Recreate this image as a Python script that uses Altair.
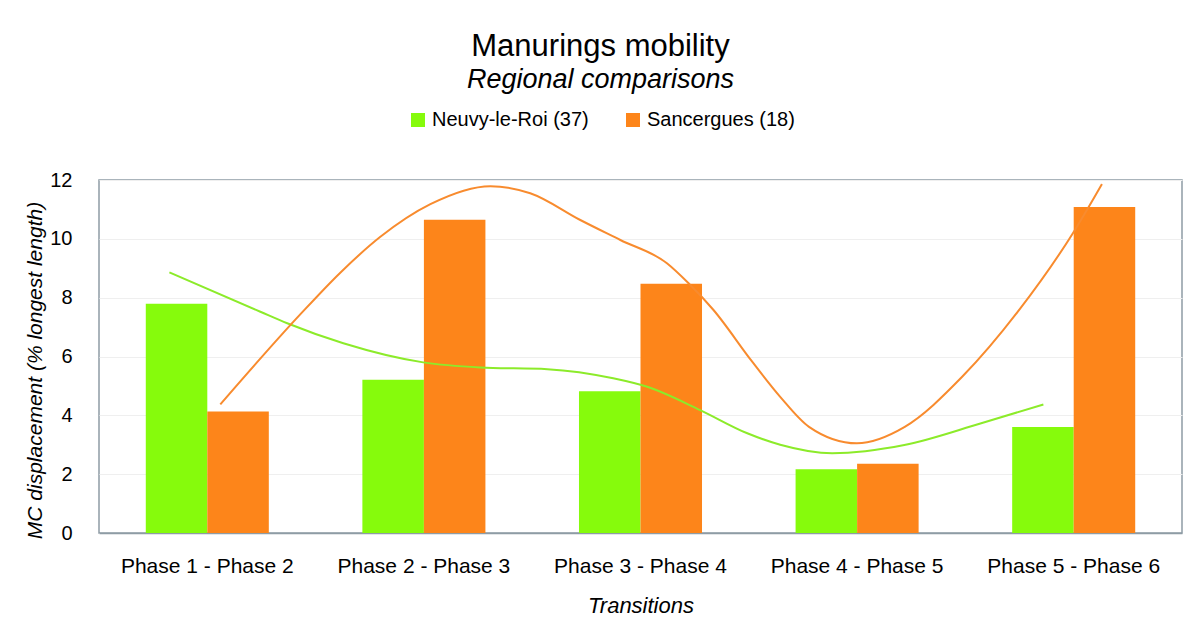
import altair as alt
import pandas as pd

# ---- data ----
categories = ["Phase 1 - Phase 2", "Phase 2 - Phase 3", "Phase 3 - Phase 4",
              "Phase 4 - Phase 5", "Phase 5 - Phase 6"]
series_names = ["Neuvy-le-Roi (37)", "Sancergues (18)"]
neuvy = [7.79, 5.21, 4.82, 2.17, 3.60]
sancergues = [4.13, 10.65, 8.47, 2.35, 11.08]

# smoothed trend curves (position in category units, 1 = first transition)
green_curve_pos = [0.825, 1.245, 1.369, 1.628, 1.997, 2.260, 2.570, 2.874,
                   3.031, 3.275, 3.493, 3.645, 3.885, 4.218, 4.573, 4.860]
green_curve_val = [8.86, 7.52, 7.13, 6.45, 5.80, 5.63, 5.57, 5.26,
                   4.97, 4.18, 3.39, 3.00, 2.71, 2.99, 3.73, 4.37]
orange_curve_pos = [1.060, 1.429, 1.614, 1.799, 2.030, 2.307, 2.491, 2.722,
                    2.907, 3.122, 3.222, 3.337, 3.513, 3.645, 3.778, 3.999,
                    4.220, 4.485, 4.750, 4.997, 5.130]
orange_curve_val = [4.37, 7.43, 8.85, 10.07, 11.18, 11.79, 11.55, 10.64,
                    9.96, 9.17, 8.49, 7.58, 5.85, 4.63, 3.61, 3.05,
                    3.61, 5.31, 7.60, 10.20, 11.86]

y_ticks = [0, 2, 4, 6, 8, 10, 12]

GREEN = "#86FB0C"
ORANGE = "#FD851A"
GREEN_LINE = "#8CEB2A"
ORANGE_LINE = "#F88B2E"
FRAME = "#8E9CA5"
FONT = "Liberation Sans"

bars_df = pd.DataFrame({
    "transition": categories * 2,
    "series": [series_names[0]] * len(categories) + [series_names[1]] * len(categories),
    "value": neuvy + sancergues,
})
green_df = pd.DataFrame({"pos": green_curve_pos, "val": green_curve_val})
orange_df = pd.DataFrame({"pos": orange_curve_pos, "val": orange_curve_val})

y_scale = alt.Scale(domain=[0, 12], nice=False, zero=True)
curve_x_scale = alt.Scale(domain=[0.5, 5.5], nice=False, zero=False)

bars = alt.Chart(bars_df).mark_bar().encode(
    x=alt.X("transition:N", sort=categories,
            scale=alt.Scale(paddingInner=0.432, paddingOuter=0.216),
            axis=alt.Axis(title="Transitions", labelAngle=0, ticks=False,
                          labelFontSize=21, labelPadding=22, labelColor="black",
                          domainColor=FRAME, domainWidth=1.5,
                          titleFontStyle="italic", titleFontWeight="normal",
                          titleFontSize=22, titleColor="black",
                          titleY=79, titleBaseline="alphabetic", grid=False)),
    xOffset=alt.XOffset("series:N", sort=series_names,
                        scale=alt.Scale(paddingInner=0, paddingOuter=0)),
    y=alt.Y("value:Q", scale=y_scale,
            axis=alt.Axis(values=y_ticks, ticks=False, domain=False, grid=True,
                          gridColor="#EFEFEF", gridWidth=1,
                          labelFontSize=20, labelPadding=27, labelColor="black",
                          title="MC displacement (% longest length)",
                          titleFontStyle="italic", titleFontWeight="normal",
                          titleFontSize=21, titleColor="black",
                          titleX=-58, titleY=190, titleAlign="center",
                          titleBaseline="alphabetic", titleAngle=270)),
    color=alt.Color("series:N", sort=series_names,
                    scale=alt.Scale(domain=series_names, range=[GREEN, ORANGE]),
                    legend=alt.Legend(title=None, orient="none", legendX=309, legendY=-70,
                                      direction="horizontal", symbolType="square",
                                      symbolSize=196, symbolStrokeWidth=0,
                                      labelFontSize=20, labelColor="black",
                                      columnPadding=34, labelOffset=4, padding=0)),
)

green_line = alt.Chart(green_df).mark_line(
    interpolate="monotone", strokeWidth=2, color=GREEN_LINE
).encode(
    x=alt.X("pos:Q", scale=curve_x_scale, axis=None),
    y=alt.Y("val:Q", scale=y_scale),
)

orange_line = alt.Chart(orange_df).mark_line(
    interpolate="monotone", strokeWidth=2, color=ORANGE_LINE
).encode(
    x=alt.X("pos:Q", scale=curve_x_scale, axis=None),
    y=alt.Y("val:Q", scale=y_scale),
)

chart = alt.layer(bars, green_line, orange_line).resolve_scale(
    x="independent"
).properties(
    width=1083,
    height=353,
    autosize=alt.AutoSizeParams(type="none"),
    padding={"left": 91, "top": 172, "right": 1, "bottom": 90},
    title=alt.Title(text="Manurings mobility", subtitle="Regional comparisons",
                    fontSize=31, fontWeight="normal", color="black",
                    subtitleFontSize=27, subtitleFontStyle="italic",
                    subtitleColor="black", subtitlePadding=4,
                    anchor="middle", frame="group", dx=-40, offset=16),
).configure(
    font=FONT, background="white"
).configure_view(
    stroke=FRAME, strokeWidth=1.5
)

chart.save("out.html", embed_options={"renderer": "svg", "actions": False})
